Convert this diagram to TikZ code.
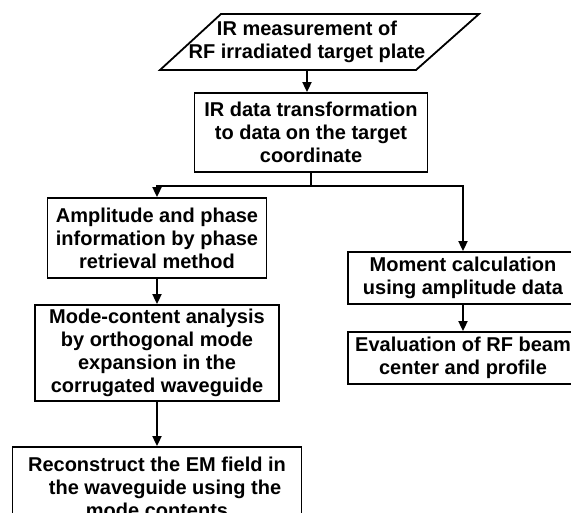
\documentclass[tikz,border=0pt]{standalone}
\usepackage{fontspec}
\setmainfont{Liberation Sans}
\usetikzlibrary{arrows.meta}
\begin{document}
\begin{tikzpicture}[x=1pt,y=-1pt,
  txt/.style={inner sep=0pt,align=center,font=\bfseries\fontsize{20}{23}\selectfont},
  box/.style={txt,draw,line width=1.8pt},
  link/.style={line width=1.8pt},
  arr/.style={line width=1.8pt,-{Triangle[length=10pt,width=9pt]}}]
\clip (0,0) rectangle (571,513);
\fill[white] (0,0) rectangle (571,513);

% input: parallelogram
\draw[line width=1.8pt,line join=miter] (160,70) -- (416,70) -- (479,14) -- (221,14) -- cycle;
\node[txt,minimum height=56pt] (meas) at (307,42)
  {IR measurement of\\RF irradiated target plate};

\node[box,minimum width=233pt,minimum height=79pt] (xform) at (311,132.5)
  {IR data transformation\\to data on the target\\coordinate};

% left branch
\node[box,minimum width=219pt,minimum height=80pt] (amp) at (157,238)
  {Amplitude and phase\\information by phase\\retrieval method};
\node[box,minimum width=244pt,minimum height=96pt] (mode) at (157,353)
  {Mode-content analysis\\by orthogonal mode\\expansion in the\\corrugated waveguide};
\node[box,minimum width=289pt,minimum height=80pt] (recon) at (157,487)
  {Reconstruct the EM field in\\\hspace*{16pt}the waveguide using the\\mode contents};

% right branch
\node[box,minimum width=230pt,minimum height=52pt] (mom) at (463,278)
  {Moment calculation\\using amplitude data};
\node[box,minimum width=230pt,minimum height=52pt] (evalb) at (463,358)
  {Evaluation of RF beam\\center and profile};

% connectors
\draw[arr] (meas.south) -- (meas.south |- xform.north);
\draw[link] (xform.south) -- ++(0,13.5) coordinate (split);
\draw[arr] (split) -| (amp.north);
\draw[arr] (split) -| (mom.north);
\draw[arr] (amp.south) -- (mode.north);
\draw[arr] (mode.south) -- (recon.north);
\draw[arr] (mom.south) -- (evalb.north);
\end{tikzpicture}
\end{document}
